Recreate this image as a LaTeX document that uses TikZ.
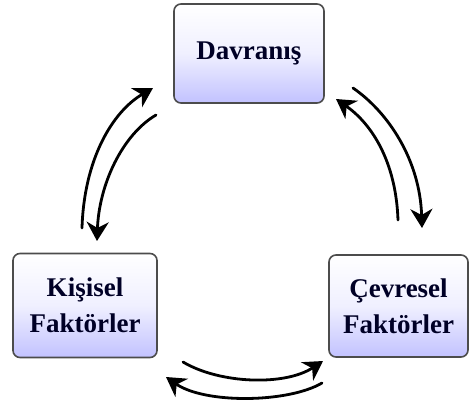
\documentclass[tikz,border=0pt]{standalone}
\usepackage{fontspec}
\setmainfont{Liberation Serif}
\usetikzlibrary{arrows.meta}
\begin{document}
\begin{tikzpicture}[x=1pt,y=-1pt,
  factor/.style={draw=black!70, line width=1.6pt, rounded corners=7pt,
    top color=white, bottom color=blue!24!white, middle color=blue!6!white,
    align=center, inner sep=0pt, text=black!85!blue,
    font=\fontsize{27}{36}\selectfont\bfseries},
  flow/.style={line width=2.8pt, line cap=round,
    -{Stealth[length=19pt,width=22pt,inset=6pt]}}]
\useasboundingbox (0,0) rectangle (469,405);
% the three factor boxes
\node[factor, minimum width=150pt, minimum height=99pt] (dav) at (249,53.5) {Davranış};
\node[factor, minimum width=144pt, minimum height=104pt] (kis) at (85,305.5) {Kişisel\\Faktörler};
\node[factor, minimum width=139pt, minimum height=102pt] (cev) at (398.5,306) {Çevresel\\Faktörler};
% end points of the curved arrows
\coordinate (l1a) at (82,228);  \coordinate (l1b) at (153,88);
\coordinate (l2a) at (156,115); \coordinate (l2b) at (97,241);
\coordinate (r1a) at (398,220); \coordinate (r1b) at (336,99);
\coordinate (r2a) at (353,88);  \coordinate (r2b) at (422,228);
\coordinate (b1a) at (183,362); \coordinate (b1b) at (323,361);
\coordinate (b2a) at (322,383); \coordinate (b2b) at (166,377);
% reciprocal influences
\draw[flow] (l1a) .. controls (84,160) and (112,112) .. (l1b);
\draw[flow] (l2a) .. controls (122,135) and (99,185) .. (l2b);
\draw[flow] (r1a) .. controls (396,162) and (372,124) .. (r1b);
\draw[flow] (r2a) .. controls (388,112) and (420,160) .. (r2b);
\draw[flow] (b1a) .. controls (220,384) and (285,386) .. (b1b);
\draw[flow] (b2a) .. controls (288,403) and (205,404) .. (b2b);
\end{tikzpicture}
\end{document}
